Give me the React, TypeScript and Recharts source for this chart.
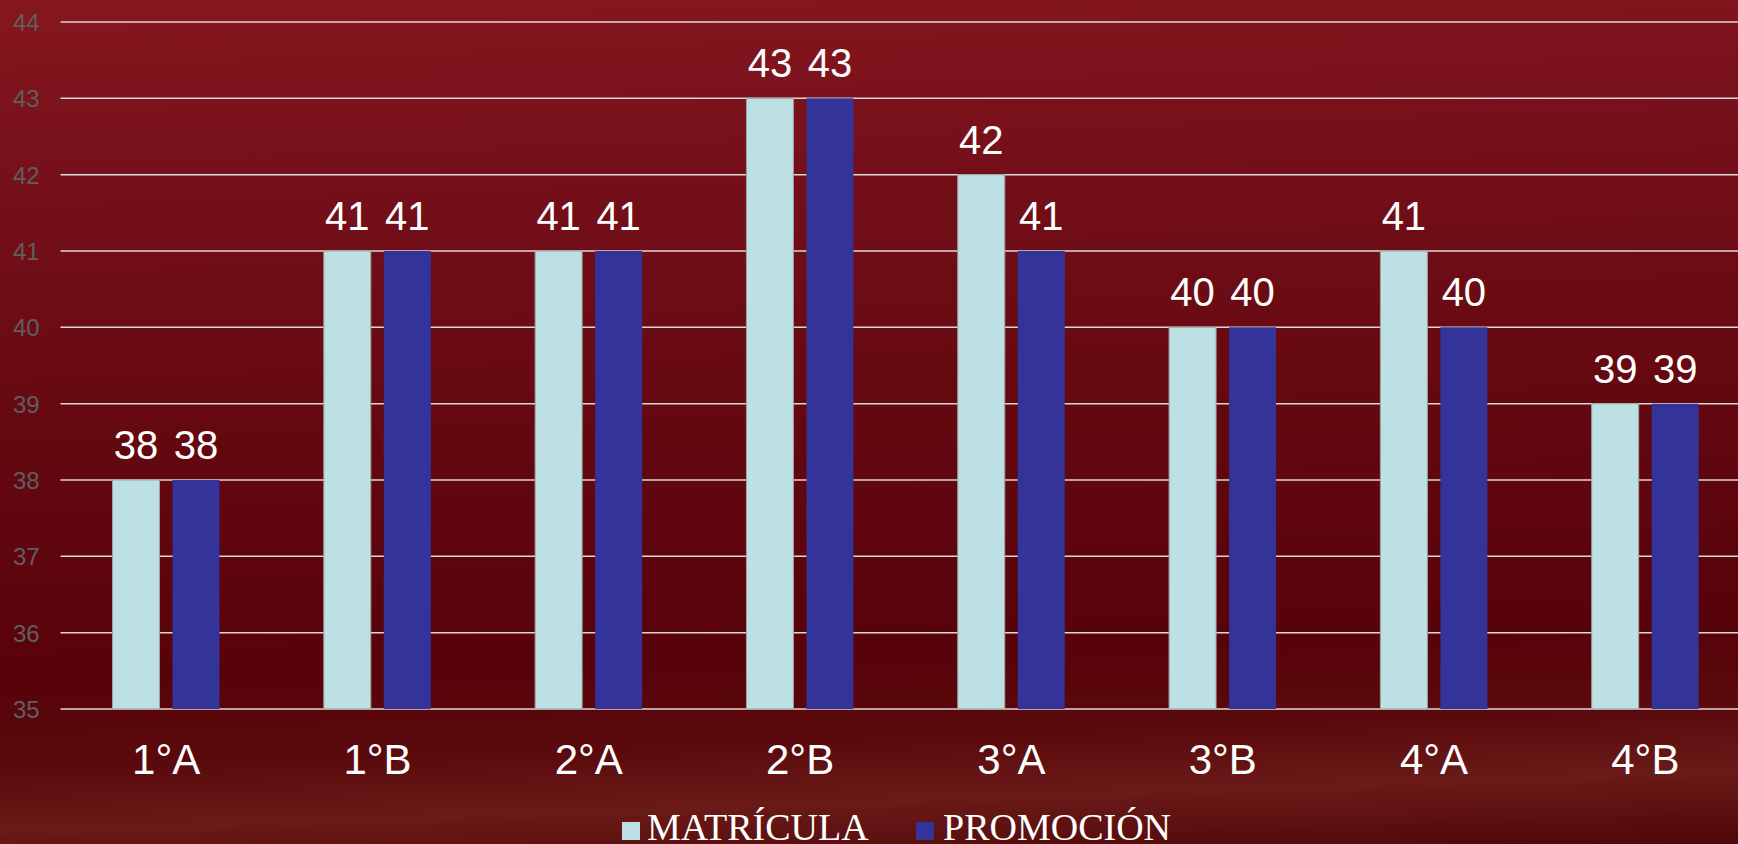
import { BarChart, Bar, XAxis, YAxis, CartesianGrid, Legend, LabelList } from 'recharts';

const categories = ['1°A', '1°B', '2°A', '2°B', '3°A', '3°B', '4°A', '4°B'];
const matricula = [38, 41, 41, 43, 42, 40, 41, 39];
const promocion = [38, 41, 41, 43, 41, 40, 40, 39];
const yTicks = [35, 36, 37, 38, 39, 40, 41, 42, 43, 44];

const data = categories.map((grado, i) => ({
  grado,
  matricula: matricula[i],
  promocion: promocion[i],
}));

const YTick = ({ y, payload }: any) => (
  <text x={13} y={y} dy={9} fill="#5f5f5f" fontSize={24} fontFamily="Arial, 'Liberation Sans', sans-serif">
    {payload.value}
  </text>
);

const XTick = ({ x, y, payload }: any) => (
  <text x={x} y={y} dy={57} textAnchor="middle" fill="#ffffff" fontSize={42} fontFamily="Arial, 'Liberation Sans', sans-serif">
    {payload.value}
  </text>
);

const LegendBox = () => (
  <div style={{ height: 40, position: 'relative', fontFamily: "'Times New Roman', 'Liberation Serif', serif", fontSize: 38, color: '#fff' }}>
    <div style={{ position: 'absolute', left: 622, top: 18, width: 18, height: 18, background: '#bce0e3' }} />
    <div style={{ position: 'absolute', left: 647, top: 0, lineHeight: '46px', whiteSpace: 'nowrap' }}>MATRÍCULA</div>
    <div style={{ position: 'absolute', left: 916, top: 18, width: 18, height: 18, background: '#333399' }} />
    <div style={{ position: 'absolute', left: 943, top: 0, lineHeight: '46px', whiteSpace: 'nowrap' }}>PROMOCIÓN</div>
  </div>
);

export default function App() {
  return (
    <div
      style={{
        position: 'absolute',
        top: 0,
        left: 0,
        width: 1738,
        height: 844,
        overflow: 'hidden',
        background:
          'linear-gradient(178deg, #86171f 0%, #76101a 20%, #640810 50%, #58020a 75%, #5a0a0c 85%, #6a1a17 92%, #4f0709 100%)',
      }}
    >
      <BarChart
        width={1751}
        height={844}
        data={data}
        margin={{ top: 22, right: 0, bottom: 0, left: 0 }}
        barSize={47}
        barGap={13}
      >
        <CartesianGrid horizontal vertical={false} stroke="#d9d9d9" strokeWidth={1.5} />
        <XAxis dataKey="grado" axisLine={false} tickLine={false} height={95} tick={<XTick />} interval={0} />
        <YAxis
          domain={[35, 44]}
          ticks={yTicks}
          width={60.5}
          axisLine={false}
          tickLine={false}
          tick={<YTick />}
          interval={0}
        />
        <Legend verticalAlign="bottom" content={<LegendBox />} />
        <Bar dataKey="matricula" name="MATRÍCULA" fill="#bce0e3" stroke="#a0a0a0" strokeWidth={1} isAnimationActive={false}>
          <LabelList dataKey="matricula" position="top" offset={21} fill="#ffffff" fontSize={40} fontFamily="Arial, 'Liberation Sans', sans-serif" />
        </Bar>
        <Bar dataKey="promocion" name="PROMOCIÓN" fill="#333399" isAnimationActive={false}>
          <LabelList dataKey="promocion" position="top" offset={21} fill="#ffffff" fontSize={40} fontFamily="Arial, 'Liberation Sans', sans-serif" />
        </Bar>
      </BarChart>
    </div>
  );
}
